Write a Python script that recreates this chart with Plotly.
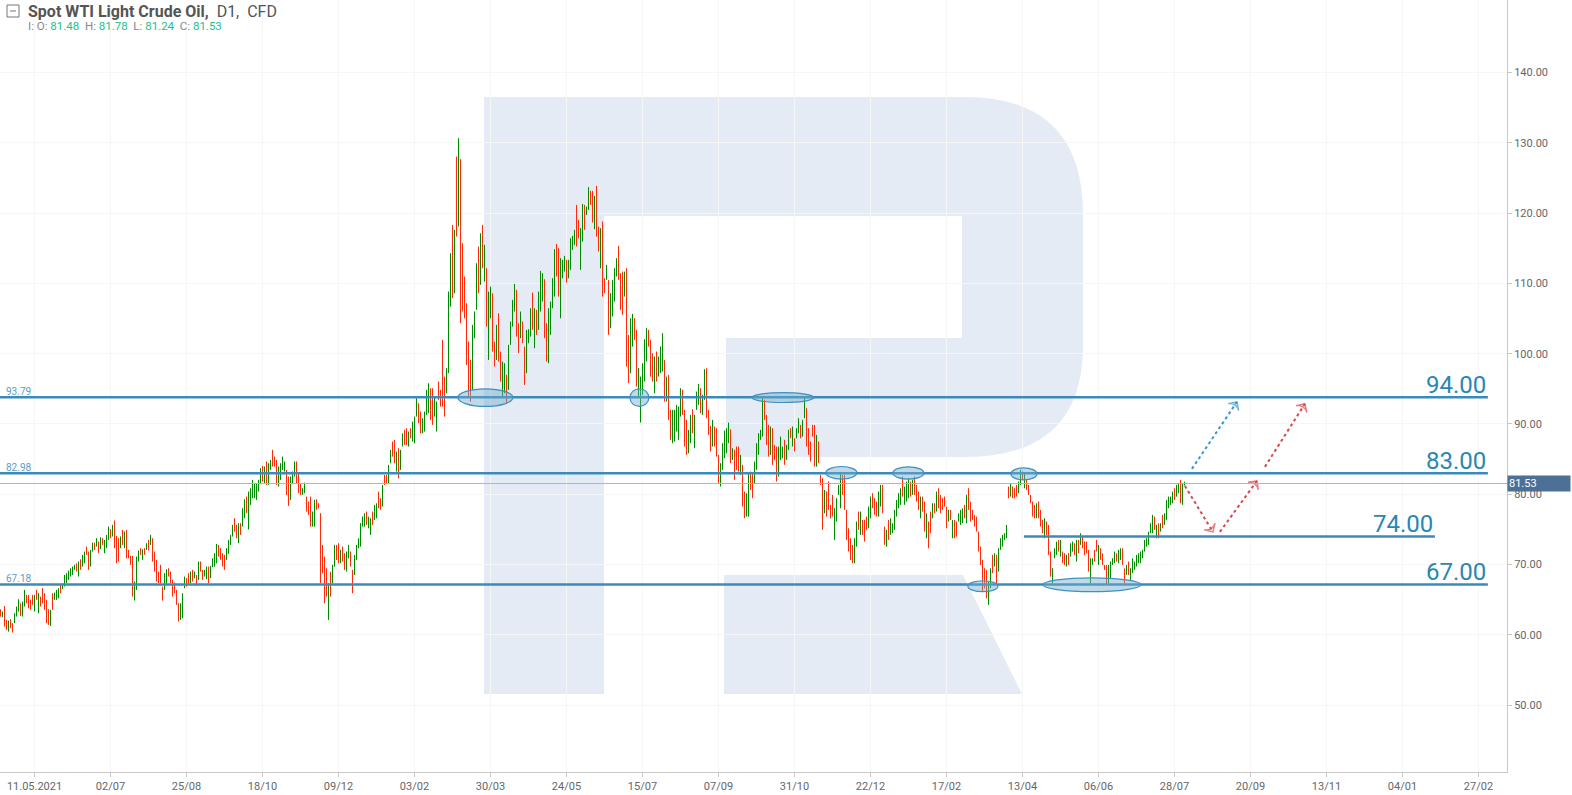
import plotly.graph_objects as go

# ------------------------------------------------------------------ data
tick_labels = ["11.05.2021", "02/07", "25/08", "18/10", "09/12", "03/02", "30/03",
               "24/05", "15/07", "07/09", "31/10", "22/12", "17/02", "13/04",
               "06/06", "28/07", "20/09", "13/11", "04/01", "27/02"]
tick_first_bar = 17
tick_step_bars = 38

# segment 1 (Apr 2021 - Nov 2021)
highs_1 = [63.65, 63.32, 64.12, 62.13, 62.04, 62.23, 61.66, 63.08, 64.03, 65.07,
           64.5, 64.74, 66.4, 65.69, 65.69, 64.98, 65.69, 65.69, 66.4, 65.93,
           65.45, 66.64, 65.93, 64.98, 63.65, 63.56, 65.93, 66.02, 66.4, 66.64,
           67.11, 67.35, 68.53, 68.77, 69.15, 69.48, 69.72, 69.96, 70.19, 70.43,
           70.76, 71.38, 71.85, 72.56, 71.85, 72.09, 73.13, 73.13, 73.75, 73.28,
           73.89, 73.75, 73.51, 74.22, 75.41, 75.03, 75.65, 76.26, 74.08, 73.75,
           73.99, 74.94, 74.7, 74.94, 72.09, 71.24, 71.24, 67.59, 71.14, 72.0,
           72.33, 72.19, 72.33, 73.04, 73.51, 74.22, 73.75, 71.85, 70.67, 69.01,
           69.96, 66.87, 68.77, 69.34, 69.48, 69.01, 67.82, 67.44, 66.4, 64.5,
           64.5, 65.93, 68.3, 68.06, 68.77, 69.01, 69.25, 69.01, 68.53, 70.43,
           70.43, 69.25, 69.25, 69.72, 69.72, 69.81, 70.9, 71.62, 72.94, 72.8,
           72.33, 71.62, 71.38, 72.33, 73.51, 74.22, 75.65, 76.6, 75.65, 75.88,
           75.88, 78.02, 79.3, 79.68, 80.39, 80.86, 82.05, 81.57, 81.57, 82.05,
           83.71, 84.04, 83.94, 84.66, 84.42, 84.89, 86.32, 85.37, 84.89, 83.94,
           84.42, 85.37, 84.66, 83.47, 82.52, 82.52, 83.23, 84.66, 84.66, 83.0]
lows_1 = [62.61, 62.51, 61.18, 60.71, 60.47, 60.95, 60.33, 61.66, 62.61, 63.32,
          62.7, 62.61, 64.03, 64.5, 63.79, 63.56, 64.27, 63.32, 64.98, 63.08,
          64.03, 64.5, 63.56, 61.66, 61.42, 61.28, 63.56, 64.98, 64.98, 65.21,
          65.93, 66.5, 66.87, 67.35, 67.82, 68.3, 68.53, 69.25, 69.01, 68.3,
          69.25, 69.72, 70.19, 71.38, 69.25, 69.72, 71.85, 72.09, 72.56, 71.62,
          72.19, 72.8, 71.62, 72.33, 73.51, 73.75, 73.99, 72.33, 70.19, 70.43,
          72.33, 72.8, 72.33, 70.9, 70.9, 69.96, 65.45, 64.88, 66.4, 70.43,
          71.38, 70.67, 71.38, 72.09, 72.0, 72.8, 70.43, 69.01, 67.59, 67.35,
          67.35, 64.88, 66.4, 67.11, 68.3, 67.35, 65.45, 65.93, 64.27, 61.9,
          62.13, 62.37, 66.64, 66.87, 67.11, 67.35, 67.59, 68.06, 66.97, 67.82,
          69.01, 67.82, 68.3, 67.92, 67.35, 68.06, 69.62, 69.72, 70.19, 71.14,
          70.67, 69.72, 69.25, 70.67, 71.52, 72.8, 73.99, 74.7, 73.75, 73.04,
          74.22, 75.41, 76.6, 77.31, 75.0, 78.49, 79.44, 79.44, 79.2, 80.39,
          81.57, 81.81, 81.57, 81.34, 81.34, 83.47, 83.94, 83.94, 81.34, 81.1,
          82.05, 83.47, 83.23, 79.91, 78.35, 79.2, 81.57, 82.52, 81.57, 80.15]
dirs_1 = ("duddudduuu duuddddudu ddddduduuu duuuuuuudu duudduudud "
          "uduuududdd ududddduuu dudududddd dduudddddd uuuddududu "
          "dduuduuuud ddduuuuddu duuduuuuuu ududuudddu uuudduuudd")

# segment 2 (Nov 2021 - Jun 2022)
highs_2 = [81.57, 80.86, 81.66, 79.67, 78.96, 79.67, 77.54, 79.2, 79.29, 78.72,
           77.3, 72.8, 71.14, 69.48, 67.34, 69.0, 69.95, 72.8, 72.8, 73.03,
           72.09, 72.56, 71.61, 71.85, 72.8, 71.85, 69.24, 71.37, 72.8, 73.75,
           75.88, 76.83, 77.3, 77.54, 76.83, 76.59, 77.54, 78.49, 78.72, 80.38,
           79.44, 81.33, 82.75, 82.75, 84.18, 86.31, 87.5, 87.73, 86.07, 86.55,
           86.31, 88.68, 89.16, 89.39, 88.92, 89.39, 90.34, 91.05, 93.66, 92.95,
           91.77, 90.81, 91.76, 94.85, 95.79, 95.08, 95.08, 93.9, 93.19, 96.03,
           94.85, 101.96, 96.74, 97.93, 108.83, 114.29, 118.32, 117.61, 128.04, 130.64,
           127.66, 115.71, 110.97, 107.17, 101.72, 99.11, 104.09, 105.99, 112.86, 115.23,
           117.13, 118.32, 115.47, 112.15, 108.83, 109.54, 108.6, 101.72, 104.09, 105.75,
           100.3, 98.88, 98.64, 96.98, 101.25, 104.57, 107.65, 109.92, 109.07, 104.33,
           105.99, 104.57, 101.01, 103.38, 103.47, 106.46, 108.69, 106.46, 106.23, 108.83,
           111.77, 111.44, 110.59, 104.33, 106.46, 107.41, 110.73, 114.86, 115.61, 115.0,
           113.58, 113.34, 113.91, 113.34, 113.34, 116.42, 116.75, 117.61, 121.16, 119.03,
           117.85, 121.3, 121.16, 120.92, 123.67, 123.15, 123.15, 122.44, 123.86, 118.08]
lows_2 = [79.91, 79.91, 80.15, 77.54, 77.06, 75.4, 75.4, 75.4, 77.78, 78.01,
          67.34, 68.77, 64.5, 65.45, 62.13, 65.45, 67.34, 69.71, 70.66, 70.19,
          70.19, 70.43, 69.24, 69.0, 70.9, 69.71, 65.92, 68.53, 70.66, 72.32,
          72.56, 75.4, 75.4, 75.64, 75.17, 74.22, 75.64, 76.35, 76.59, 78.01,
          77.78, 78.25, 81.33, 81.57, 81.57, 84.41, 85.36, 84.41, 83.23, 82.28,
          83.47, 86.79, 87.02, 87.02, 86.79, 87.97, 87.5, 87.26, 91.05, 90.1,
          88.68, 88.68, 88.92, 91.29, 91.53, 90.58, 89.87, 91.05, 88.92, 93.42,
          92.47, 92.47, 91.05, 94.37, 97.22, 106.7, 107.89, 108.6, 116.66, 118.08,
          104.33, 105.99, 105.04, 98.4, 93.9, 93.19, 94.85, 102.2, 106.23, 108.6,
          109.78, 112.15, 110.26, 103.85, 99.11, 105.04, 100.3, 98.17, 99.11, 98.88,
          96.03, 93.9, 94.37, 92.85, 94.85, 101.25, 103.85, 105.99, 102.43, 100.06,
          102.2, 101.48, 95.56, 97.22, 101.48, 102.43, 103.38, 100.77, 102.67, 103.38,
          105.99, 107.41, 102.2, 98.88, 98.64, 102.67, 106.46, 108.12, 110.97, 108.12,
          105.04, 110.73, 111.68, 110.11, 110.73, 111.92, 114.76, 115.47, 115.24, 116.42,
          111.92, 115.95, 117.61, 119.74, 120.45, 121.16, 118.65, 117.7, 116.66, 114.52]
dirs_2 = ("duuddduudd dddduduudd udduudduuu uuuduuduud dudduuddud "
          "uudduduuud duuuudduud ddduuududu dddddduuud ududuuddud "
          "duuduuuudd udduuududu uudduuuudd uuuduuuudd uuduuddudd")

# segment 3 (Jun 2022 - Jan 2023)
highs_3 = [117.84, 118.79, 110.73, 112.63, 110.5, 108.6, 110.5, 112.15, 113.58, 115.33,
           111.44, 111.68, 111.68, 112.15, 102.67, 105.04, 105.66, 105.04, 103.38, 97.93,
           96.74, 98.64, 102.06, 103.62, 103.38, 101.96, 100.06, 99.59, 100.3, 99.59,
           101.01, 102.91, 99.12, 96.74, 96.98, 92.0, 92.0, 92.0, 92.71, 92.48,
           95.09, 94.85, 92.0, 90.58, 89.16, 91.29, 92.1, 91.29, 94.61, 95.7,
           95.09, 94.14, 97.79, 97.93, 92.0, 89.73, 90.58, 89.63, 89.4, 85.6,
           84.42, 87.26, 89.06, 89.4, 90.2, 89.25, 86.55, 86.31, 86.79, 86.79,
           85.6, 84.18, 80.39, 80.15, 82.99, 83.23, 82.99, 84.65, 87.26, 88.68,
           89.16, 93.66, 93.43, 91.29, 89.87, 89.63, 89.4, 87.02, 86.79, 86.79,
           88.21, 86.79, 87.74, 87.02, 89.16, 89.4, 89.63, 87.97, 89.4, 90.82,
           89.87, 90.58, 93.9, 92.24, 89.4, 87.5, 89.87, 89.87, 88.45, 87.5,
           82.76, 82.28, 80.62, 80.39, 81.81, 78.49, 79.91, 78.02, 79.44, 81.33,
           83.09, 82.76, 82.76, 77.78, 75.17, 73.75, 72.8, 73.75, 76.12, 77.54,
           77.54, 76.36, 76.36, 76.83, 78.25, 79.68, 80.15, 79.44, 78.96, 80.39,
           81.33, 81.33, 75.41, 74.93, 76.36, 76.59, 75.88, 77.78, 79.2, 80.15]
lows_3 = [112.15, 108.12, 108.6, 110.5, 102.67, 103.62, 105.28, 107.41, 110.97, 110.5,
          106.23, 105.52, 108.12, 98.17, 95.8, 97.22, 101.01, 101.96, 95.32, 93.9,
          90.2, 94.14, 96.03, 98.88, 101.01, 96.74, 96.03, 94.37, 96.03, 96.74,
          97.22, 97.46, 93.19, 93.19, 90.58, 87.74, 87.26, 87.5, 88.92, 87.74,
          91.05, 91.29, 86.79, 85.6, 85.84, 87.26, 88.68, 86.55, 92.0, 92.71,
          91.53, 91.29, 93.43, 90.82, 88.45, 86.08, 86.79, 86.79, 85.36, 81.57,
          81.1, 83.47, 85.13, 85.84, 87.26, 84.42, 84.89, 82.05, 83.47, 83.23,
          82.76, 78.25, 76.59, 76.83, 76.83, 80.62, 79.44, 81.57, 83.47, 85.6,
          87.74, 88.21, 90.58, 87.02, 85.36, 85.6, 84.18, 84.89, 81.81, 82.52,
          84.89, 85.13, 84.18, 84.89, 86.31, 87.97, 86.79, 86.08, 87.97, 88.68,
          87.97, 88.21, 90.82, 86.79, 85.6, 84.65, 88.21, 83.94, 83.94, 84.42,
          81.33, 74.93, 77.3, 76.83, 77.78, 76.59, 76.83, 73.51, 76.12, 79.91,
          78.02, 79.91, 77.78, 73.51, 71.85, 70.67, 70.19, 70.19, 72.56, 74.93,
          74.22, 74.22, 73.27, 74.93, 75.17, 76.59, 78.02, 77.07, 76.83, 76.83,
          78.25, 77.3, 72.8, 72.56, 73.51, 74.22, 74.46, 74.93, 76.83, 78.02]
dirs_3 = ("udduduuuud ddudduuddu uuuudddudu uududduuuu uddduuduuu "
          "duuddduddd uuuuududdd udduudduuu uudddudddu uuduududuu "
          "duudddddud ddudddduuu udddddduud uddduudddu udduduuuuu")

# segment 4 (Jan 2023 - Aug 2023)
highs_4 = [80.86, 82.52, 81.1, 81.81, 82.28, 81.81, 82.04, 82.52, 81.33, 80.38,
           79.67, 79.67, 78.96, 77.3, 76.12, 77.54, 78.72, 78.72, 80.38, 80.86,
           79.91, 79.44, 79.67, 78.25, 77.78, 77.78, 76.35, 76.35, 76.12, 77.3,
           77.78, 78.01, 78.49, 79.91, 80.86, 78.96, 77.78, 77.07, 76.83, 74.69,
           72.56, 70.66, 69.48, 69.24, 67.58, 69.48, 71.38, 71.61, 71.38, 72.32,
           73.75, 74.22, 74.46, 75.64, 81.1, 81.57, 81.1, 80.86, 81.33, 81.81,
           83.47, 83.23, 82.99, 82.04, 81.33, 79.91, 78.96, 78.49, 78.72, 78.96,
           77.78, 76.35, 76.59, 76.12, 75.64, 71.85, 69.48, 72.32, 73.27, 73.51,
           73.51, 71.85, 71.61, 71.38, 71.61, 73.03, 73.27, 73.03, 73.51, 73.51,
           74.46, 73.98, 73.27, 73.27, 72.09, 70.9, 70.9, 72.09, 73.51, 72.8,
           72.32, 71.61, 69.95, 69.95, 69.95, 70.43, 70.9, 71.85, 71.61, 72.09,
           72.32, 72.32, 69.48, 69.95, 70.43, 69.48, 70.9, 70.43, 71.38, 71.61,
           71.85, 72.09, 73.51, 73.75, 74.69, 75.88, 77.07, 76.83, 75.64, 75.88,
           75.88, 77.07, 77.3, 79.2, 79.67, 79.67, 80.38, 80.86, 81.33, 81.57,
           82.04, 81.6, 81.78]
lows_4 = [78.49, 79.67, 78.49, 78.96, 79.44, 79.67, 79.91, 79.91, 78.96, 77.78,
          76.59, 77.54, 74.69, 73.75, 72.32, 74.46, 76.59, 77.3, 77.54, 78.01,
          77.3, 77.78, 78.25, 75.17, 76.12, 76.35, 73.75, 73.75, 73.98, 76.12,
          75.64, 75.88, 76.59, 75.88, 77.78, 76.12, 76.35, 75.41, 74.69, 71.85,
          69.95, 66.16, 66.63, 65.21, 64.26, 66.63, 68.77, 69.72, 67.11, 69.0,
          72.09, 72.56, 73.51, 73.75, 79.44, 79.67, 79.44, 79.44, 79.67, 80.15,
          81.33, 82.04, 80.86, 80.62, 79.91, 78.72, 76.83, 76.59, 76.59, 76.59,
          75.41, 74.46, 73.75, 74.22, 71.38, 68.29, 67.34, 70.9, 71.38, 71.85,
          71.14, 70.19, 69.95, 69.72, 69.95, 71.14, 71.85, 71.38, 70.43, 71.61,
          72.8, 72.32, 71.38, 71.61, 69.0, 67.34, 69.95, 70.43, 71.85, 69.95,
          70.66, 69.95, 69.24, 67.11, 67.34, 68.06, 69.95, 70.19, 70.43, 70.19,
          70.66, 69.95, 67.34, 68.53, 68.53, 67.82, 68.77, 69.24, 69.72, 70.19,
          70.19, 70.9, 71.85, 72.56, 72.8, 74.46, 74.46, 74.93, 73.75, 73.75,
          74.69, 75.17, 75.64, 76.35, 78.01, 78.49, 78.72, 79.2, 79.67, 80.15,
          78.72, 78.5, 81.24]
dirs_4 = ("uduuududdd udduddudud ddddududdu uududddddd dddduududu "
          "uuuududddu ududddddud dduddduuud udduduudud udddduuddu "
          "dddduuuudu udduduuuuu uuuuuuudud uduuuuuduu duu")

# key levels drawn by the analyst
levels = [93.79, 82.98, 67.18]
levels_left_text = ["93.79", "82.98", "67.18"]
levels_right_text = ["94.00", "83.00", "67.00"]
levels_end_bar = 743.7
inner_level = 74.00
inner_level_text = "74.00"
inner_level_bars = [511.7, 717.2]

last_price = 81.53
last_ohlc = [("O", "81.48"), ("H", "81.78"), ("L", "81.24"), ("C", "81.53")]

# highlighted touch zones: (bar from, bar to, price from, price to)
zones = [(228.7, 256.2, 92.5, 95.0), (314.7, 324.2, 92.5, 95.0),
         (375.7, 406.7, 93.05, 94.45), (412.7, 428.2, 82.15, 83.95),
         (446.2, 461.7, 82.15, 83.9), (483.7, 498.7, 66.15, 67.7),
         (505.2, 518.2, 82.05, 83.75), (521.2, 570.2, 66.15, 68.1)]

# forecast arrows: (bar0, price0, bar1, price1)
forecast_blue = [(595.7, 83.61, 618.2, 93.14)]
forecast_red = [(592.2, 81.19, 606.2, 74.65), (609.7, 74.65, 628.2, 81.9),
                (632.2, 83.9, 652.2, 92.87)]

# ------------------------------------------------------------------ build series
def clean(s):
    return s.replace(" ", "")

highs, lows, dirs = [], [], ""
for h, l, d in [(highs_1, lows_1, dirs_1), (highs_2, lows_2, dirs_2),
                (highs_3, lows_3, dirs_3), (highs_4, lows_4, dirs_4)]:
    d = clean(d)
    n = min(len(h), len(l))
    d = (d + "u" * n)[:n]
    highs += h[:n]
    lows += l[:n]
    dirs += d

xs = list(range(len(highs)))
opens = [lo if d == "u" else hi for hi, lo, d in zip(highs, lows, dirs)]
closes = [hi if d == "u" else lo for hi, lo, d in zip(highs, lows, dirs)]

# ------------------------------------------------------------------ style
W, H = 1572, 795
ML, MR, MT, MB = 0, 65, 0, 23
PW, PH = W - ML - MR, H - MT - MB
GREEN = "#008a00"
RED = "#ff2a0a"
LEVEL_BLUE = "#3a8bb9"
LABEL_BLUE = "#2a86b2"
SMALL_BLUE = "#5b9cc6"
WATER = "#e4ebf4"
AX_FONT = dict(family="Liberation Sans Narrow, Arial Narrow, Roboto, sans-serif", size=11, color="#666666")


def pp(px, py):
    return f"{px / PW:.5f},{1 - py / PH:.5f}"


fig = go.Figure()

fig.add_trace(go.Ohlc(
    x=xs, open=opens, high=highs, low=lows, close=closes,
    increasing=dict(line=dict(color=GREEN, width=1)),
    decreasing=dict(line=dict(color=RED, width=1)),
    tickwidth=0, hoverinfo="skip", showlegend=False))

for color, segs in [("#3897d3", forecast_blue), ("#d64848", forecast_red)]:
    for x0, y0, x1, y1 in segs:
        fig.add_trace(go.Scatter(
            x=[x0, x1], y=[y0, y1], mode="lines+markers",
            line=dict(color=color, width=2, dash="dot"),
            marker=dict(symbol="arrow-wide-open", size=[0, 9], angleref="previous",
                        color=color, line=dict(color=color, width=1.5)),
            hoverinfo="skip", showlegend=False))

shapes = []
# watermark "R"
r_body = ("M" + pp(484, 97) + " L" + pp(965, 97) + " Q" + pp(1083, 97) + " " + pp(1083, 215) +
          " L" + pp(1083, 345) + " Q" + pp(1083, 457) + " " + pp(965, 457) +
          " L" + pp(726, 457) + " L" + pp(726, 338) + " L" + pp(962, 338) +
          " L" + pp(962, 216) + " L" + pp(604, 216) + " L" + pp(604, 694) +
          " L" + pp(484, 694) + " Z")
r_leg = "M" + pp(724, 575) + " L" + pp(963, 575) + " L" + pp(1022, 694) + " L" + pp(724, 694) + " Z"
for p in (r_body, r_leg):
    shapes.append(dict(type="path", path=p, xref="paper", yref="paper",
                       fillcolor=WATER, line=dict(width=0), layer="below"))

# last price line
shapes.append(dict(type="line", xref="paper", x0=0, x1=1, yref="y", y0=last_price, y1=last_price,
                   line=dict(color="#a9b6c4", width=1), layer="above"))
# level lines
for lv in levels:
    shapes.append(dict(type="line", xref="x", x0=-1, x1=levels_end_bar, yref="y", y0=lv, y1=lv,
                       line=dict(color=LEVEL_BLUE, width=2.5), layer="above"))
shapes.append(dict(type="line", xref="x", x0=inner_level_bars[0], x1=inner_level_bars[1],
                   yref="y", y0=inner_level, y1=inner_level,
                   line=dict(color=LEVEL_BLUE, width=2.5), layer="above"))
# zones
for x0, x1, y0, y1 in zones:
    shapes.append(dict(type="circle", xref="x", yref="y", x0=x0, x1=x1, y0=y0, y1=y1,
                       fillcolor="rgba(110,170,205,0.45)", line=dict(color="#3f8fbf", width=1.2),
                       layer="above"))
# title icon
shapes.append(dict(type="rect", xref="paper", yref="paper", x0=7 / PW, x1=19 / PW,
                   y0=1 - 17 / PH, y1=1 - 5 / PH, line=dict(color="#777777", width=1),
                   fillcolor="white", layer="above"))
shapes.append(dict(type="line", xref="paper", yref="paper", x0=10 / PW, x1=16 / PW,
                   y0=1 - 11 / PH, y1=1 - 11 / PH, line=dict(color="#777777", width=1),
                   layer="above"))

annotations = []
annotations.append(dict(
    xref="paper", yref="paper", x=26 / PW, y=1 - 11 / PH, xanchor="left", yanchor="middle",
    showarrow=False,
    text="<b>Spot WTI Light Crude Oil,</b>&nbsp; D1,&nbsp; CFD",
    font=dict(family="Roboto, sans-serif", size=16, color="#555555")))
ohlc_txt = "I:&nbsp;" + "&nbsp;&nbsp;".join(
    f"{k}:&nbsp;<span style='color:#22c08c'>{v}</span>" for k, v in last_ohlc)
annotations.append(dict(
    xref="paper", yref="paper", x=26 / PW, y=1 - 25.5 / PH, xanchor="left", yanchor="middle",
    showarrow=False, text=ohlc_txt,
    font=dict(family="Roboto, sans-serif", size=11.5, color="#888888")))

for lv, lt, rt in zip(levels, levels_left_text, levels_right_text):
    annotations.append(dict(xref="paper", yref="y", x=4 / PW, y=lv, xanchor="left", yanchor="bottom",
                            showarrow=False, text=lt, yshift=-2,
                            font=dict(family="Roboto, sans-serif", size=10, color=SMALL_BLUE)))
    annotations.append(dict(xref="x", yref="y", x=levels_end_bar, y=lv, xanchor="right",
                            yanchor="bottom", showarrow=False, text=rt, yshift=-4,
                            font=dict(family="Roboto, sans-serif", size=24, color=LABEL_BLUE)))
annotations.append(dict(xref="x", yref="y", x=inner_level_bars[1], y=inner_level, xanchor="right",
                        yanchor="bottom", showarrow=False, text=inner_level_text, yshift=-4,
                        font=dict(family="Roboto, sans-serif", size=24, color=LABEL_BLUE)))
# last price tag on the axis
annotations.append(dict(xref="paper", yref="y", x=1.0, y=last_price, xanchor="left", yanchor="middle",
                        showarrow=False, text=f"{last_price:.2f}", align="left", width=60,
                        bgcolor="#4c7097", borderpad=1,
                        font=dict(family="Roboto, sans-serif", size=11, color="white")))

fig.update_layout(
    width=W, height=H, margin=dict(l=ML, r=MR, t=MT, b=MB),
    paper_bgcolor="white", plot_bgcolor="white", showlegend=False,
    shapes=shapes, annotations=annotations,
    xaxis=dict(range=[-0.25, PW / 2 - 0.25],
               tickvals=[tick_first_bar + tick_step_bars * i for i in range(len(tick_labels))],
               ticktext=tick_labels, ticks="outside", ticklen=4, tickcolor="#c8c8c8",
               showline=True, linecolor="#c8c8c8", linewidth=1, showgrid=True,
               gridcolor="#f6f6f6", zeroline=False, tickfont=AX_FONT,
               rangeslider=dict(visible=False)),
    yaxis=dict(side="right", range=[40.5, 150.3], tickvals=list(range(50, 141, 10)),
               tickformat=".2f", ticks="outside", ticklen=4, tickcolor="#c8c8c8",
               showline=True, linecolor="#c8c8c8", linewidth=1, showgrid=True,
               gridcolor="#f6f6f6", zeroline=False, tickfont=AX_FONT),
)

fig.write_html("out.html", config={"displayModeBar": False},
               post_script="document.body.style.margin='0px';")
